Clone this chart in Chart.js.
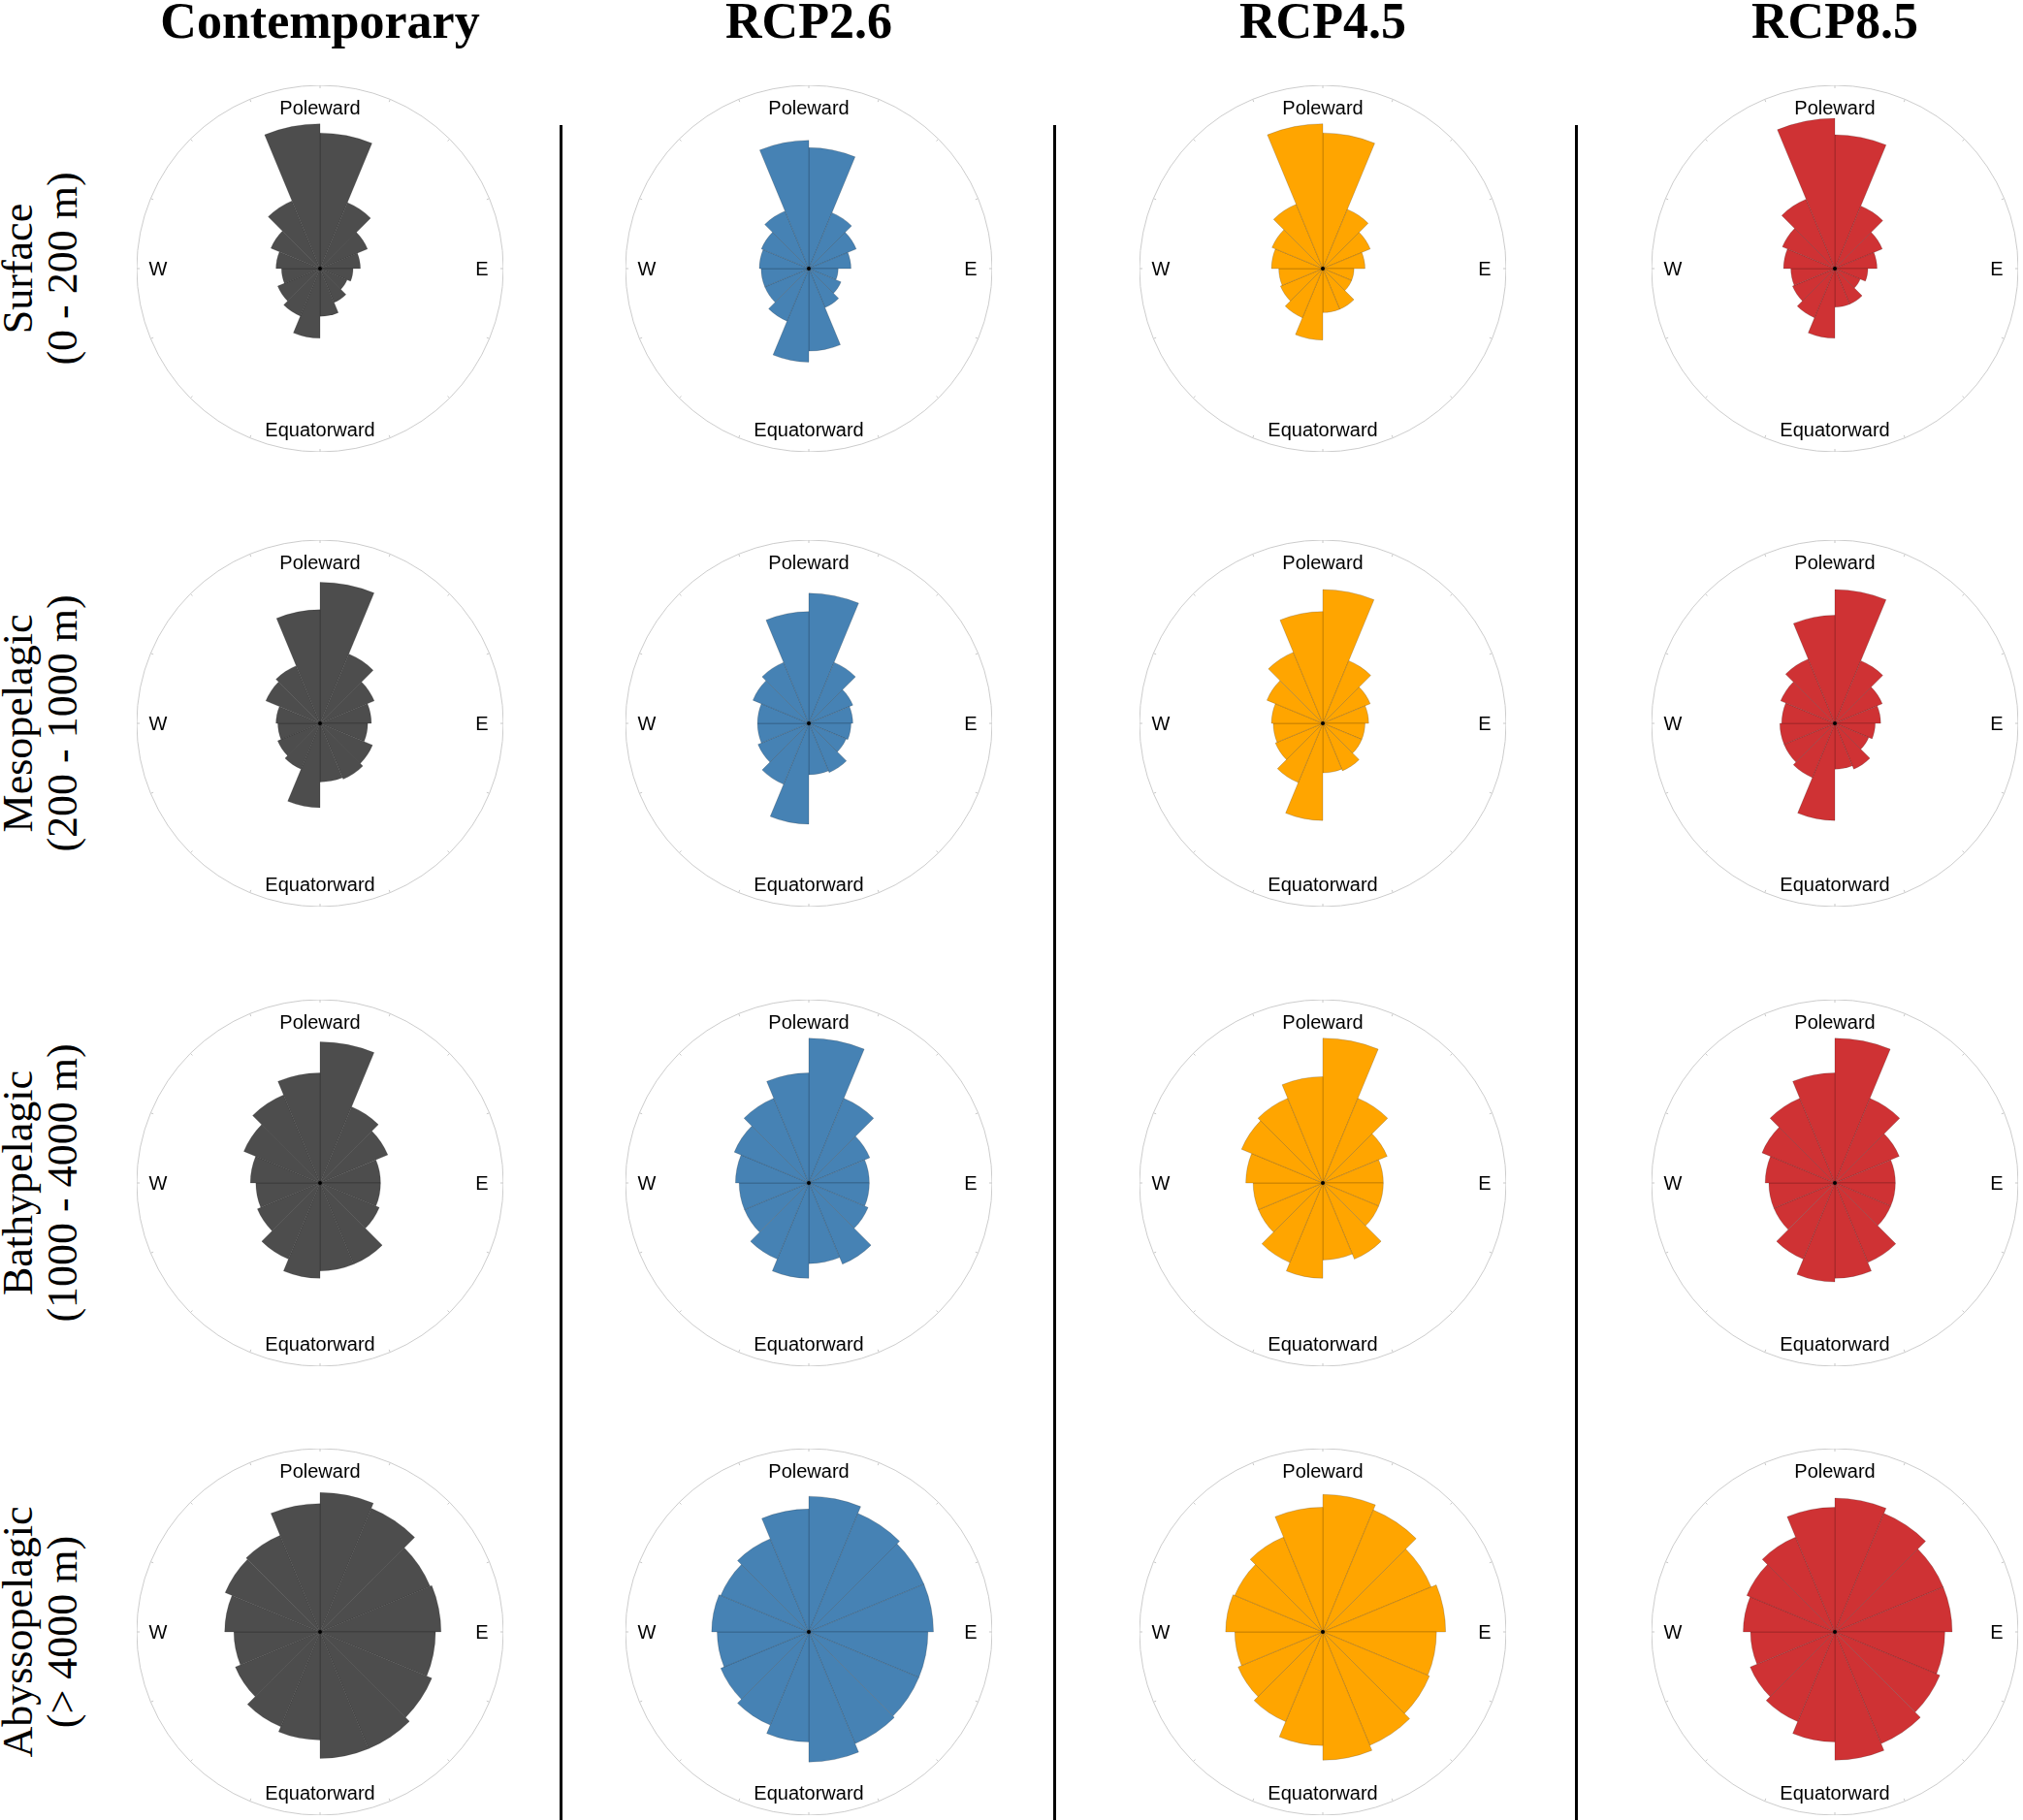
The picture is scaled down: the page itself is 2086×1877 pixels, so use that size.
<!DOCTYPE html>
<html>
<head>
<meta charset="utf-8">
<script src="https://cdn.jsdelivr.net/npm/chart.js@4/dist/chart.umd.min.js"></script>
<style>
  body { margin: 0; width: 2086px; height: 1877px; background: #fff; position: relative; overflow: hidden; }
  .title { position: absolute; top: 0; font: bold 52px "Liberation Serif", "DejaVu Serif", serif; transform: translate(-50%, -8px); white-space: nowrap; }
  .rowlab { position: absolute; font: 44px "Liberation Serif", serif; text-align: center; line-height: 46px; white-space: nowrap;
            transform: translate(-50%, -50%) rotate(-90deg); }
  .cell { position: absolute; width: 378px; height: 378px; }
  .lab { position: absolute; font: 20px "Liberation Sans", Arial, sans-serif; transform: translate(-50%, -50%); white-space: nowrap; }
  .vline { position: absolute; width: 3px; background: #000; top: 129px; height: 1748px; }
</style>
</head>
<body>
<script>
// 16 direction bins, clockwise from Poleward (north)
const bins = ["N-NNE","NNE-NE","NE-ENE","ENE-E","E-ESE","ESE-SE","SE-SSE","SSE-S",
              "S-SSW","SSW-SW","SW-WSW","WSW-W","W-WNW","WNW-NW","NW-NNW","NNW-N"];
const scenarios = ["Contemporary", "RCP2.6", "RCP4.5", "RCP8.5"];
const scenarioColors = ["#4d4d4d", "#4682b4", "#ffa500", "#cf3234"];
const layers = [["Surface", "(0 - 200 m)"], ["Mesopelagic", "(200 - 1000 m)"],
                ["Bathypelagic", "(1000 - 4000 m)"], ["Abyssopelagic", "(> 4000 m)"]];

// relative frequency per bin (fraction of outer circle), one array per layer/scenario
const surfaceContemporary = [0.74,0.39,0.28,0.22,0.18,0.16,0.20,0.26,0.38,0.28,0.25,0.21,0.24,0.29,0.40,0.79];
const surfaceRcp26 = [0.66,0.33,0.28,0.23,0.16,0.19,0.23,0.45,0.51,0.31,0.26,0.26,0.27,0.28,0.34,0.70];
const surfaceRcp45 = [0.74,0.35,0.28,0.23,0.17,0.17,0.24,0.24,0.39,0.29,0.25,0.24,0.28,0.30,0.38,0.79];
const surfaceRcp85 = [0.73,0.37,0.28,0.23,0.18,0.15,0.21,0.21,0.38,0.29,0.25,0.24,0.28,0.31,0.41,0.82];

const mesoContemporary = [0.77,0.41,0.32,0.28,0.26,0.31,0.33,0.32,0.46,0.27,0.25,0.23,0.24,0.32,0.34,0.62];
const mesoRcp26 = [0.71,0.36,0.26,0.24,0.23,0.22,0.29,0.28,0.55,0.36,0.30,0.28,0.28,0.33,0.36,0.61];
const mesoRcp45 = [0.73,0.37,0.28,0.25,0.23,0.23,0.28,0.27,0.53,0.35,0.28,0.27,0.28,0.33,0.42,0.61];
const mesoRcp85 = [0.73,0.37,0.28,0.25,0.22,0.20,0.27,0.25,0.53,0.32,0.30,0.30,0.29,0.32,0.38,0.59];

const bathyContemporary = [0.77,0.45,0.40,0.33,0.33,0.35,0.48,0.48,0.52,0.45,0.37,0.35,0.38,0.45,0.52,0.60];
const bathyRcp26 = [0.79,0.50,0.36,0.33,0.33,0.35,0.48,0.44,0.52,0.45,0.38,0.38,0.40,0.44,0.50,0.60];
const bathyRcp45 = [0.79,0.50,0.38,0.33,0.33,0.33,0.45,0.42,0.52,0.47,0.38,0.38,0.42,0.48,0.50,0.58];
const bathyRcp85 = [0.79,0.50,0.38,0.33,0.33,0.33,0.47,0.52,0.54,0.45,0.36,0.36,0.38,0.43,0.50,0.60];

const abyssoContemporary = [0.76,0.73,0.65,0.66,0.63,0.66,0.69,0.69,0.59,0.56,0.50,0.47,0.52,0.56,0.57,0.70];
const abyssoRcp26 = [0.74,0.70,0.68,0.68,0.65,0.65,0.66,0.71,0.60,0.55,0.52,0.50,0.53,0.52,0.55,0.67];
const abyssoRcp45 = [0.75,0.72,0.64,0.67,0.62,0.63,0.67,0.70,0.62,0.53,0.50,0.48,0.53,0.52,0.56,0.68];
const abyssoRcp85 = [0.73,0.70,0.64,0.64,0.60,0.62,0.66,0.70,0.60,0.53,0.50,0.46,0.50,0.52,0.56,0.68];

const grid = [
  [surfaceContemporary, surfaceRcp26, surfaceRcp45, surfaceRcp85],
  [mesoContemporary, mesoRcp26, mesoRcp45, mesoRcp85],
  [bathyContemporary, bathyRcp26, bathyRcp45, bathyRcp85],
  [abyssoContemporary, abyssoRcp26, abyssoRcp45, abyssoRcp85]
];

const colX = [330, 834, 1364, 1892];
const rowY = [277, 746, 1220, 1683];
const R = 189;

function add(tag, cls, text, x, y) {
  const el = document.createElement(tag);
  el.className = cls;
  if (text !== null) el.innerHTML = text;
  el.style.left = x + "px";
  el.style.top = y + "px";
  document.body.appendChild(el);
  return el;
}

scenarios.forEach((s, c) => add("div", "title", s, colX[c], 0));
layers.forEach((l, r) => add("div", "rowlab", l.join("<br>"), 42, rowY[r]));
[577, 1086, 1624].forEach(x => add("div", "vline", null, x, 129));

// outer ring tick marks + center dot
const ringPlugin = {
  id: "ring",
  afterDraw(chart) {
    const sc = chart.scales.r, ctx = chart.ctx;
    ctx.save();
    ctx.strokeStyle = "#c8c8c8";
    ctx.lineWidth = 1;
    for (let i = 0; i < 16; i++) {
      const a = -Math.PI / 2 + i * Math.PI / 8;
      ctx.beginPath();
      ctx.moveTo(sc.xCenter + Math.cos(a) * (sc.drawingArea - 3), sc.yCenter + Math.sin(a) * (sc.drawingArea - 3));
      ctx.lineTo(sc.xCenter + Math.cos(a) * sc.drawingArea, sc.yCenter + Math.sin(a) * sc.drawingArea);
      ctx.stroke();
    }
    ctx.fillStyle = "#000";
    ctx.beginPath();
    ctx.arc(sc.xCenter, sc.yCenter, 2, 0, Math.PI * 2);
    ctx.fill();
    ctx.restore();
  }
};

grid.forEach((row, r) => {
  row.forEach((values, c) => {
    const cx = colX[c], cy = rowY[r];
    const box = add("div", "cell", null, cx - R, cy - R);
    const canvas = document.createElement("canvas");
    box.appendChild(canvas);
    new Chart(canvas, {
      type: "polarArea",
      data: {
        labels: bins,
        datasets: [{
          data: values,
          backgroundColor: scenarioColors[c],
          borderColor: "rgba(0,0,0,0.25)",
          borderWidth: 0.7
        }]
      },
      options: {
        responsive: true,
        maintainAspectRatio: false,
        animation: false,
        layout: { padding: 0 },
        plugins: { legend: { display: false }, tooltip: { enabled: false } },
        scales: {
          r: {
            min: 0, max: 1,
            startAngle: 0,
            ticks: { display: false, stepSize: 1 },
            grid: { color: ctx => ctx.tick.value === 1 ? "#cccccc" : "rgba(0,0,0,0)", lineWidth: 1 },
            angleLines: { display: false },
            pointLabels: { display: false }
          }
        }
      },
      plugins: [ringPlugin]
    });
    add("div", "lab", "Poleward", cx, cy - 166);
    add("div", "lab", "Equatorward", cx, cy + 166);
    add("div", "lab", "W", cx - 167, cy);
    add("div", "lab", "E", cx + 167, cy);
  });
});
</script>
</body>
</html>
